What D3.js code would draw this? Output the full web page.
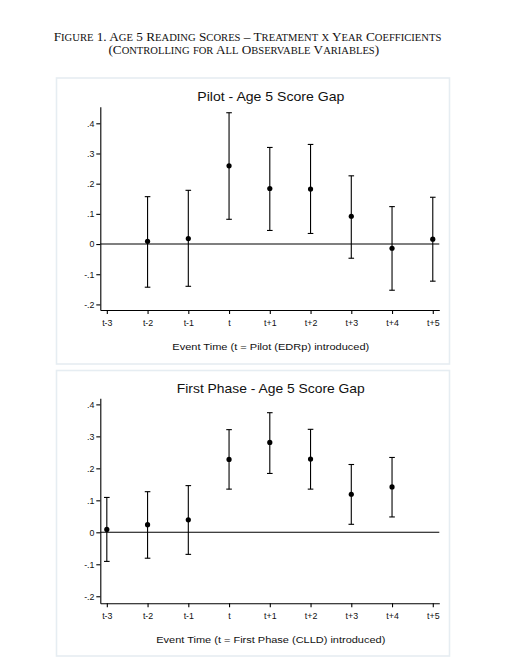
<!DOCTYPE html>
<html>
<head>
<meta charset="utf-8">
<script src="https://cdn.jsdelivr.net/npm/d3@7"></script>
<style>
  body { margin: 0; background: #fff; }
  svg text { font-family: "Liberation Sans", Arial, sans-serif; fill: #111; }
  svg text.fig-title { font-family: "Liberation Serif", "Times New Roman", serif; }
</style>
</head>
<body>
<svg id="chart"></svg>
<script>
// event time categories and y axis ticks
const categories = ['t-3', 't-2', 't-1', 't', 't+1', 't+2', 't+3', 't+4', 't+5'];
const yTicks = [-0.2, -0.1, 0, 0.1, 0.2, 0.3, 0.4];
const yTickLabels = ['-.2', '-.1', '0', '.1', '.2', '.3', '.4'];

// pilot (EDRp) coefficients and 95% bounds
const pilotEstimate = [null, 0.009, 0.018, 0.259, 0.184, 0.182, 0.092, -0.014, 0.016];
const pilotUpper = [null, 0.157, 0.178, 0.435, 0.320, 0.330, 0.226, 0.124, 0.155];
const pilotLower = [null, -0.143, -0.140, 0.082, 0.045, 0.035, -0.047, -0.153, -0.123];
const pilotRange = [-0.2185, 0.455];

// first phase (CLLD) coefficients and 95% bounds
const firstEstimate = [0.009, 0.024, 0.039, 0.228, 0.281, 0.229, 0.119, 0.142, null];
const firstUpper = [0.109, 0.127, 0.146, 0.321, 0.374, 0.322, 0.212, 0.234, null];
const firstLower = [-0.091, -0.081, -0.069, 0.135, 0.184, 0.135, 0.025, 0.048, null];
const firstRange = [-0.222, 0.419];

const titleLines = [
  'Figure 1. Age 5 Reading Scores \u2013 Treatment x Year Coefficients',
  '(Controlling for All Observable Variables)'
];

const width = 517;
const height = 662;

const svg = d3.select('#chart')
  .attr('width', width)
  .attr('height', height)
  .attr('viewBox', `0 0 ${width} ${height}`);

// small caps done by hand: lowercase runs become smaller capitals
function smallCaps(textEl, str, big, small) {
  const runs = str.match(/[a-z]+|[^a-z]+/g) || [];
  runs.forEach((run) => {
    const lower = /[a-z]/.test(run[0]);
    textEl.append('tspan')
      .attr('data-lower', lower ? 1 : 0)
      .attr('font-size', lower ? small : big)
      .text(lower ? run.toUpperCase() : run);
  });
}

const titleSpecs = [
  { cx: 247.5, y: 40.7, len: 388 },
  { cx: 243.8, y: 53.5, len: 271 },
];
titleLines.forEach((line, i) => {
  const t = svg.append('text')
    .attr('class', 'fig-title')
    .attr('x', titleSpecs[i].cx)
    .attr('y', titleSpecs[i].y)
    .attr('text-anchor', 'middle')
    .attr('fill', '#111');
  smallCaps(t, line, 13.5, 10.8);
  // scale the font so the line spans the same width as the scan
  const k = titleSpecs[i].len / t.node().getComputedTextLength();
  t.selectAll('tspan')
    .attr('font-size', function () { return (this.getAttribute('data-lower') === '1' ? 10.8 : 13.5) * k; });
});

const panels = [
  {
    title: 'Pilot - Age 5 Score Gap',
    titleLen: 147,
    xTitle: 'Event Time (t = Pilot (EDRp) introduced)',
    xTitleLen: 197,
    estimate: pilotEstimate,
    upper: pilotUpper,
    lower: pilotLower,
    range: pilotRange,
    box: { x: 56.5, y: 78, w: 393, h: 286 },
    plot: { left: 100.3, right: 439.3, top: 106.7, bottom: 310 },
  },
  {
    title: 'First Phase - Age 5 Score Gap',
    titleLen: 188,
    xTitle: 'Event Time (t = First Phase (CLLD) introduced)',
    xTitleLen: 229,
    estimate: firstEstimate,
    upper: firstUpper,
    lower: firstLower,
    range: firstRange,
    box: { x: 56.5, y: 370.5, w: 393, h: 285.5 },
    plot: { left: 100.3, right: 439.3, top: 398.3, bottom: 603.3 },
  },
];

function styleTickText(sel) {
  sel.attr('font-size', 8.2)
    .attr('font-family', '"Liberation Sans", Arial, sans-serif')
    .attr('fill', '#000');
}

function renderPanel(panel) {
  const { box, plot } = panel;
  const midX = (plot.left + plot.right) / 2;

  svg.append('rect')
    .attr('x', box.x)
    .attr('y', box.y)
    .attr('width', box.w)
    .attr('height', box.h)
    .attr('fill', '#fff')
    .attr('stroke', '#e6edf2')
    .attr('stroke-width', 1.6);

  const x = d3.scalePoint()
    .domain(categories)
    .range([plot.left, plot.right])
    .padding(0.16);

  const y = d3.scaleLinear()
    .domain(panel.range)
    .range([plot.bottom, plot.top]);

  svg.append('text')
    .attr('x', midX + 1)
    .attr('y', plot.top - 5.6)
    .attr('text-anchor', 'middle')
    .attr('font-size', 12.8)
    .attr('textLength', panel.titleLen)
    .attr('lengthAdjust', 'spacingAndGlyphs')
    .text(panel.title);

  // zero reference line
  svg.append('line')
    .attr('x1', plot.left)
    .attr('x2', plot.right)
    .attr('y1', y(0))
    .attr('y2', y(0))
    .attr('stroke', '#000')
    .attr('stroke-width', 1.1);

  const yAxis = svg.append('g')
    .attr('transform', `translate(${plot.left},0)`)
    .call(
      d3.axisLeft(y)
        .tickValues(yTicks)
        .tickSize(4)
        .tickSizeOuter(0)
        .tickFormat((d, i) => yTickLabels[i])
    );
  yAxis.selectAll('path, line').attr('stroke', '#000').attr('stroke-width', 1.1);
  yAxis.selectAll('text')
    .call(styleTickText)
    .attr('x', -5.4)
    .attr('dy', '0.34em')
    .attr('transform', 'scale(1.08,1)');

  const xAxis = svg.append('g')
    .attr('transform', `translate(0,${plot.bottom})`)
    .call(d3.axisBottom(x).tickSize(4).tickSizeOuter(0));
  xAxis.selectAll('path, line').attr('stroke', '#000').attr('stroke-width', 1.1);
  xAxis.selectAll('text')
    .call(styleTickText)
    .attr('y', 15.8)
    .attr('dy', 0)
    .attr('transform', 'scale(1.08,1)');

  svg.append('text')
    .attr('x', midX + 1)
    .attr('y', plot.bottom + 39.8)
    .attr('text-anchor', 'middle')
    .attr('font-size', 9.6)
    .attr('textLength', panel.xTitleLen)
    .attr('lengthAdjust', 'spacingAndGlyphs')
    .text(panel.xTitle);

  const rows = categories
    .map((c, i) => ({ c, est: panel.estimate[i], up: panel.upper[i], lo: panel.lower[i] }))
    .filter((r) => r.est !== null);

  const bars = svg.append('g').attr('stroke', '#000').attr('stroke-width', 1.1);
  bars.selectAll('.ci')
    .data(rows)
    .enter()
    .append('line')
    .attr('x1', (r) => x(r.c))
    .attr('x2', (r) => x(r.c))
    .attr('y1', (r) => y(r.up))
    .attr('y2', (r) => y(r.lo));
  ['up', 'lo'].forEach((key) => {
    bars.selectAll(`.cap-${key}`)
      .data(rows)
      .enter()
      .append('line')
      .attr('x1', (r) => x(r.c) - 2.8)
      .attr('x2', (r) => x(r.c) + 2.8)
      .attr('y1', (r) => y(r[key]))
      .attr('y2', (r) => y(r[key]));
  });

  svg.append('g')
    .selectAll('circle')
    .data(rows)
    .enter()
    .append('circle')
    .attr('cx', (r) => x(r.c))
    .attr('cy', (r) => y(r.est))
    .attr('r', 2.6)
    .attr('fill', '#000');
}

panels.forEach(renderPanel);
</script>
</body>
</html>
